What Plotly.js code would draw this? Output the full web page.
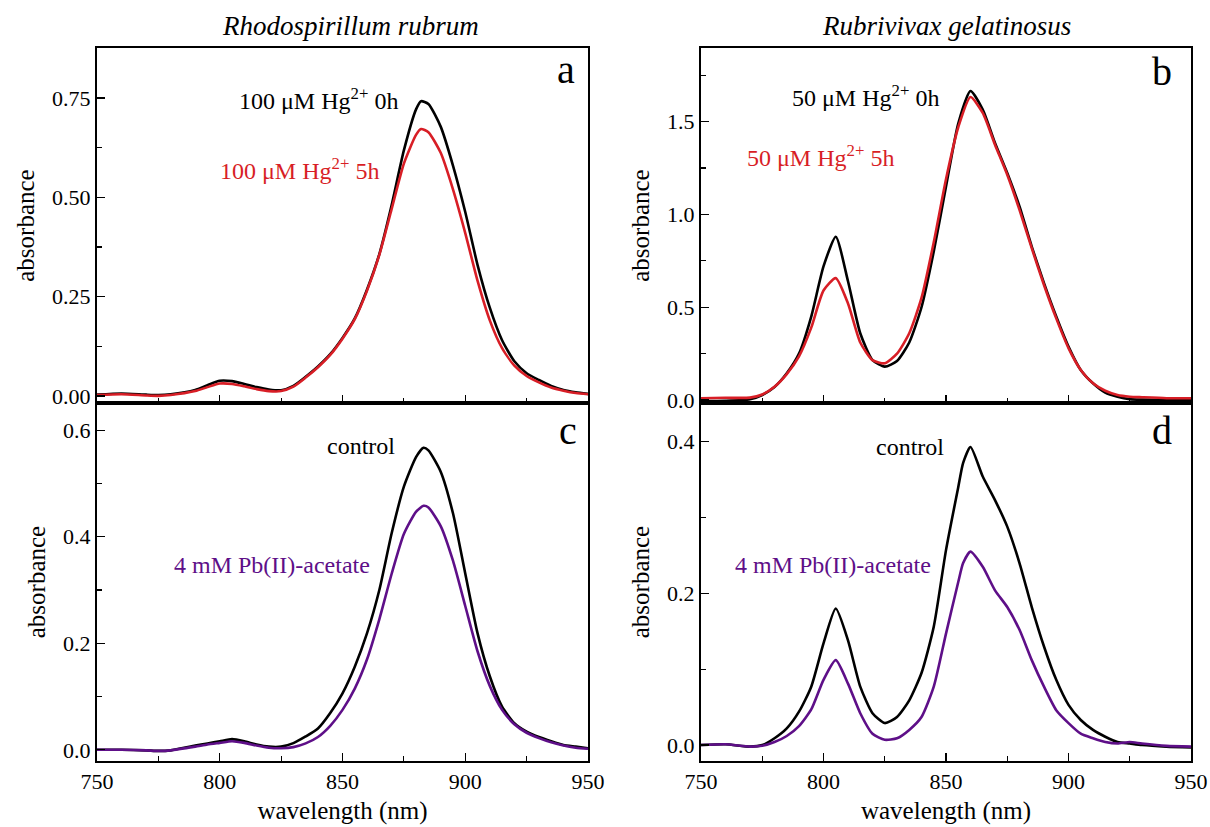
<!DOCTYPE html>
<html>
<head>
<meta charset="utf-8">
<script src="https://cdn.plot.ly/plotly-3.0.1.min.js"></script>
<style>html,body{margin:0;padding:0;background:#fff}#chart{width:1210px;height:827px}</style>
</head>
<body>
<div id="chart"></div>
<script>
// ---- Panel a: Rhodospirillum rubrum, 100 µM Hg2+ ----
const wlA = [750,760,770,775,780,790,795,800,805,810,815,820,825,830,835,840,845,850,855,860,865,870,875,880,882,885,890,895,900,905,910,915,920,925,930,935,940,945,950];
const hg100_0h = [0.003,0.006,0.003,0.002,0.004,0.015,0.027,0.038,0.037,0.030,0.022,0.016,0.014,0.025,0.048,0.074,0.105,0.146,0.195,0.268,0.357,0.480,0.618,0.722,0.742,0.735,0.678,0.580,0.463,0.330,0.222,0.140,0.087,0.057,0.040,0.025,0.015,0.009,0.005];
const hg100_5h = [0.002,0.004,0.001,0.000,0.002,0.012,0.022,0.031,0.030,0.024,0.017,0.012,0.012,0.023,0.046,0.072,0.103,0.144,0.193,0.265,0.355,0.470,0.585,0.658,0.672,0.664,0.612,0.520,0.410,0.290,0.190,0.120,0.076,0.050,0.034,0.021,0.013,0.007,0.004];

// ---- Panel b: Rubrivivax gelatinosus, 50 µM Hg2+ ----
const wlB = [750,760,770,775,780,785,790,795,800,805,810,815,820,825,830,835,840,845,850,855,860,865,870,875,880,885,890,895,900,905,910,915,920,925,930,940,950];
const hg50_0h = [-0.005,-0.004,0.004,0.027,0.070,0.144,0.250,0.450,0.720,0.880,0.640,0.360,0.215,0.180,0.210,0.310,0.500,0.800,1.150,1.490,1.665,1.565,1.385,1.223,1.043,0.827,0.630,0.450,0.288,0.162,0.090,0.040,0.018,0.005,0.002,0.000,0.000];
const hg50_5h = [0.010,0.012,0.013,0.030,0.072,0.140,0.235,0.390,0.590,0.657,0.520,0.310,0.215,0.198,0.250,0.360,0.550,0.850,1.190,1.470,1.633,1.547,1.376,1.214,1.025,0.818,0.620,0.440,0.280,0.162,0.090,0.050,0.027,0.018,0.015,0.010,0.010];

// ---- Panel c: Rhodospirillum rubrum, Pb(II)-acetate ----
const wlC = [750,760,770,775,780,790,795,800,805,810,815,820,825,830,835,840,845,850,855,860,865,870,875,880,883,885,890,895,900,905,910,915,920,925,930,935,940,945,950];
const rrControl = [0.000,0.000,-0.001,-0.002,-0.001,0.008,0.012,0.016,0.020,0.016,0.010,0.006,0.006,0.0125,0.025,0.040,0.069,0.106,0.156,0.219,0.300,0.406,0.494,0.550,0.567,0.562,0.522,0.444,0.331,0.219,0.138,0.081,0.050,0.034,0.024,0.016,0.009,0.006,0.003];
const rrPb = [0.000,0.000,-0.001,-0.002,-0.001,0.006,0.010,0.013,0.016,0.013,0.008,0.004,0.003,0.005,0.012,0.024,0.045,0.075,0.115,0.170,0.245,0.330,0.405,0.447,0.458,0.455,0.420,0.355,0.270,0.185,0.120,0.075,0.048,0.032,0.022,0.014,0.008,0.004,0.002];

// ---- Panel d: Rubrivivax gelatinosus, Pb(II)-acetate ----
const wlD = [750,760,770,775,780,785,790,795,800,805,810,815,820,825,830,835,840,845,850,855,857,860,865,870,875,880,885,890,895,900,905,910,915,920,925,930,940,950];
const rgControl = [0.000,0.001,-0.002,0.000,0.009,0.022,0.044,0.077,0.134,0.180,0.138,0.077,0.042,0.029,0.037,0.059,0.095,0.156,0.257,0.340,0.372,0.393,0.354,0.323,0.288,0.240,0.182,0.130,0.086,0.053,0.033,0.020,0.011,0.004,0.002,0.000,-0.002,-0.003];
const rgPb = [0.000,0.001,-0.002,-0.001,0.004,0.012,0.025,0.047,0.086,0.112,0.081,0.042,0.015,0.007,0.009,0.020,0.037,0.077,0.147,0.215,0.240,0.255,0.235,0.204,0.182,0.152,0.112,0.077,0.046,0.029,0.015,0.009,0.004,0.002,0.004,0.002,-0.001,-0.002];

const xTickVals = [750,800,850,900,950];
const panelTitles = ["Rhodospirillum rubrum","Rubrivivax gelatinosus"];
const panelLetters = ["a","b","c","d"];
const labels = {
  a0: "100 μM Hg<sup>2+</sup> 0h", a5: "100 μM Hg<sup>2+</sup> 5h",
  b0: "50 μM Hg<sup>2+</sup> 0h",  b5: "50 μM Hg<sup>2+</sup> 5h",
  ctrl: "control", pb: "4 mM Pb(II)-acetate"
};

const BLACK = "#000000", RED = "#d81e26", PURPLE = "#5e0f88";
const W = 1210, H = 827;
const FONT = "Liberation Serif, Times New Roman, serif";
const px = x => x / W;
const py = y => 1 - y / H;

function tr(x, y, color, xa, ya) {
  return {x: x, y: y, type: "scatter", mode: "lines", xaxis: xa, yaxis: ya,
          line: {color: color, width: 2.6, shape: "spline", smoothing: 0.6},
          hoverinfo: "skip", showlegend: false};
}

const data = [
  tr(wlA, hg100_0h, BLACK, "x", "y"),
  tr(wlA, hg100_5h, RED, "x", "y"),
  tr(wlB, hg50_0h, BLACK, "x2", "y2"),
  tr(wlB, hg50_5h, RED, "x2", "y2"),
  tr(wlC, rrControl, BLACK, "x3", "y3"),
  tr(wlC, rrPb, PURPLE, "x3", "y3"),
  tr(wlD, rgControl, BLACK, "x4", "y4"),
  tr(wlD, rgPb, PURPLE, "x4", "y4")
];

const xDomL = [px(97), px(588)], xDomR = [px(701), px(1191)];
const yDomT = [py(403), py(48)], yDomB = [py(761), py(403)];

function xax(dom, anchor, showLabels) {
  const a = {domain: dom, anchor: anchor, range: [750, 950], tickvals: xTickVals,
    ticks: "inside", ticklen: 8, tickwidth: 1.3, tickcolor: "#000",
    showline: true, linecolor: "#000", linewidth: 2, mirror: true,
    showgrid: false, zeroline: false,
    minor: {dtick: 25, tick0: 750, ticks: "inside", ticklen: 5, tickwidth: 1.2, tickcolor: "#000"},
    showticklabels: showLabels,
    tickfont: {family: FONT, size: 22, color: "#000"}};
  if (showLabels) a.title = {text: "wavelength (nm)", font: {family: FONT, size: 25, color: "#000"}, standoff: 8};
  return a;
}
function yax(dom, anchor, range, tickvals, ticktext, minorDtick) {
  return {domain: dom, anchor: anchor, range: range, tickvals: tickvals, ticktext: ticktext,
    ticks: "inside", ticklen: 8, tickwidth: 1.3, tickcolor: "#000",
    showline: true, linecolor: "#000", linewidth: 2, mirror: true,
    showgrid: false, zeroline: false,
    minor: {dtick: minorDtick, tick0: 0, ticks: "inside", ticklen: 5, tickwidth: 1.2, tickcolor: "#000"},
    tickfont: {family: FONT, size: 22, color: "#000"},
    title: {text: "absorbance", font: {family: FONT, size: 25, color: "#000"}, standoff: 10}};
}

const layout = {
  width: W, height: H, margin: {l: 0, r: 0, t: 0, b: 0},
  font: {family: FONT, color: "#000"},
  paper_bgcolor: "#fff", plot_bgcolor: "rgba(0,0,0,0)", showlegend: false,
  xaxis: xax(xDomL, "y", false),
  yaxis: yax(yDomT, "x", [-0.018, 0.876], [0, 0.25, 0.5, 0.75], ["0.00","0.25","0.50","0.75"], 0.125),
  xaxis2: xax(xDomR, "y2", false),
  yaxis2: yax(yDomT, "x2", [-0.016, 1.897], [0, 0.5, 1.0, 1.5], ["0.0","0.5","1.0","1.5"], 0.25),
  xaxis3: xax(xDomL, "y3", true),
  yaxis3: yax(yDomB, "x3", [-0.021, 0.651], [0, 0.2, 0.4, 0.6], ["0.0","0.2","0.4","0.6"], 0.1),
  xaxis4: xax(xDomR, "y4", true),
  yaxis4: yax(yDomB, "x4", [-0.021, 0.451], [0, 0.2, 0.4], ["0.0","0.2","0.4"], 0.1),
  annotations: []
};

function ann(text, x, y, size, color, xanchor) {
  layout.annotations.push({text: text, x: px(x), y: py(y), xref: "paper", yref: "paper",
    xanchor: xanchor || "center", yanchor: "middle", showarrow: false,
    font: {family: FONT, size: size, color: color}});
}
ann("<i>" + panelTitles[0] + "</i>", 350, 26, 27, "#000");
ann("<i>" + panelTitles[1] + "</i>", 946, 26, 27, "#000");
ann(panelLetters[0], 566, 70, 40, "#000");
ann(panelLetters[1], 1162, 71, 40, "#000");
ann(panelLetters[2], 568, 430, 40, "#000");
ann(panelLetters[3], 1162, 430, 40, "#000");
ann(labels.a0, 237, 99, 24, BLACK, "left");
ann(labels.a5, 218, 169, 24, RED, "left");
ann(labels.b0, 790, 96, 24, BLACK, "left");
ann(labels.b5, 745, 156, 24, RED, "left");
ann(labels.ctrl, 325, 446, 24, BLACK, "left");
ann(labels.pb, 172, 565, 24, PURPLE, "left");
ann(labels.ctrl, 874, 447, 24, BLACK, "left");
ann(labels.pb, 733, 565, 24, PURPLE, "left");

Plotly.newPlot("chart", data, layout, {staticPlot: true, displayModeBar: false});
</script>
</body>
</html>
